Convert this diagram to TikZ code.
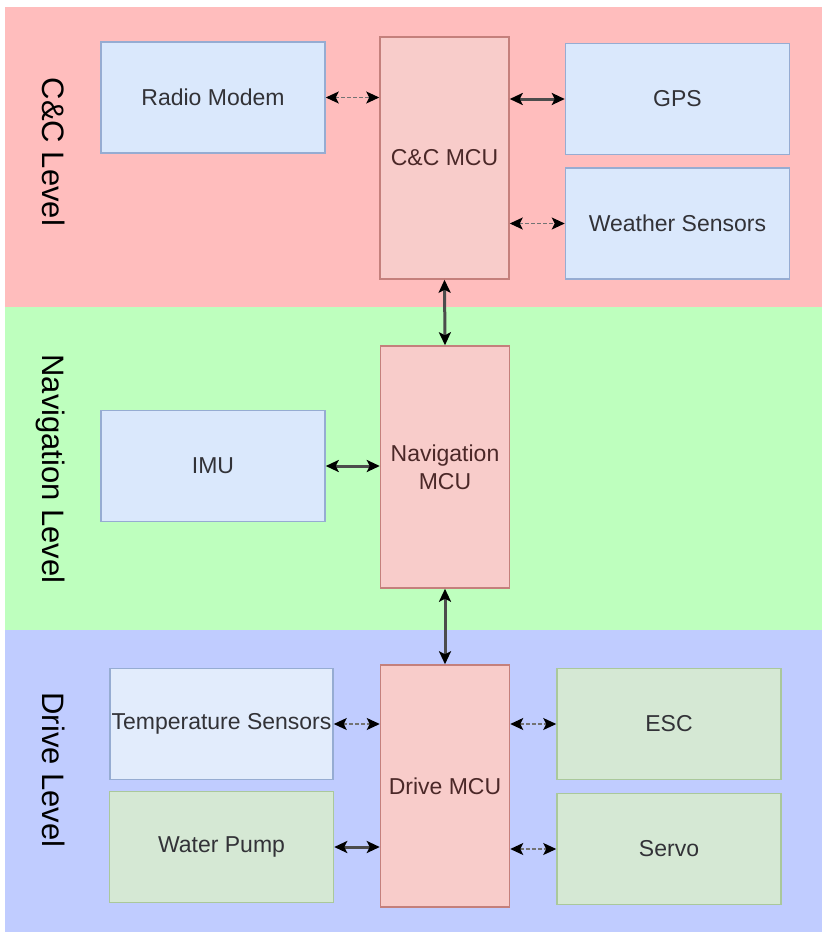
\documentclass[tikz,border=0pt]{standalone}
\usepackage{fontspec}
\setmainfont{Liberation Sans}
\usetikzlibrary{arrows.meta}

\definecolor{bandred}{RGB}{255,189,189}
\definecolor{bandgreen}{RGB}{190,255,190}
\definecolor{bandblue}{RGB}{192,204,255}
\definecolor{devfill}{RGB}{218,232,252}
\definecolor{devdraw}{RGB}{150,172,210}
\definecolor{tempfill}{RGB}{226,236,252}
\definecolor{mcufill}{RGB}{248,204,202}
\definecolor{mcudraw}{RGB}{196,128,124}
\definecolor{actfill}{RGB}{213,232,212}
\definecolor{actdraw}{RGB}{170,200,155}
\definecolor{boxtext}{RGB}{50,50,55}
\definecolor{mcutext}{RGB}{75,40,40}

\begin{document}
\begin{tikzpicture}[x=1pt,y=-1pt,
		every node/.style={inner sep=0pt,font=\fontsize{23}{28}\selectfont},
		dev/.style={draw=devdraw,fill=devfill,line width=1.5pt,text=boxtext,minimum width=224pt,minimum height=111pt},
		act/.style={dev,draw=actdraw,fill=actfill},
		mcu/.style={draw=mcudraw,fill=mcufill,line width=1.5pt,text=mcutext,minimum width=129pt,minimum height=242pt,align=center},
		lvl/.style={rotate=-90,font=\fontsize{31}{37}\selectfont,text=black,text height=23pt,text depth=6pt},
		link/.style={{Stealth[length=13pt,width=12pt,inset=3pt,color=black]}-{Stealth[length=13pt,width=12pt,inset=3pt,color=black]},line width=3pt,draw=black!70},
		weaklink/.style={link,line width=1.3pt,draw=black!55,dash pattern=on 4pt off 2pt}]
	\useasboundingbox (0,0) rectangle (827,937);
	\fill[white] (0,0) rectangle (827,937);
	
	% level bands
	\fill[bandred]   (5,7)   rectangle (822,307);
	\fill[bandgreen] (5,307) rectangle (822,630);
	\fill[bandblue]  (5,630) rectangle (822,932);
	\node[lvl] (cclevel)    at (51,152) {C\&C Level};
	\node[lvl] (navlevel)   at (51,469) {Navigation Level};
	\node[lvl] (drivelevel) at (51,770) {Drive Level};
	
	% C&C level
	\node[mcu] (ccmcu)   at (444.5,158) {C\&C MCU};
	\node[dev] (radio)   at (213,97.5)  {Radio Modem};
	\node[dev] (gps)     at (677.5,99)  {GPS};
	\node[dev] (weather) at (677.5,223.5) {Weather Sensors};
	
	% navigation level
	\node[mcu] (navmcu) at (445,467) {Navigation\\MCU};
	\node[dev] (imu)    at (213,466) {IMU};
	
	% drive level
	\node[mcu] (drivemcu) at (445,786) {Drive MCU};
	\node[dev,fill=tempfill,minimum width=223pt] (temp) at (221.5,724) {Temperature Sensors};
	\node[act] (pump)  at (221.5,847) {Water Pump};
	\node[act] (esc)   at (669,724)   {ESC};
	\node[act] (servo) at (669,849)   {Servo};
	
	\draw[weaklink] (radio.east) -- (radio.east -| ccmcu.west);
	\draw[link]     (gps.west -| ccmcu.east) -- (gps.west);
	\draw[weaklink] (weather.west -| ccmcu.east) -- (weather.west);
	\draw[link]     (ccmcu.south) -- (navmcu.north);
	\draw[link]     (imu.east) -- (imu.east -| navmcu.west);
	\draw[link]     (navmcu.south) -- (drivemcu.north);
	\draw[weaklink] (temp.east) -- (temp.east -| drivemcu.west);
	\draw[link]     (pump.east) -- (pump.east -| drivemcu.west);
	\draw[weaklink] (esc.west -| drivemcu.east) -- (esc.west);
	\draw[weaklink] (servo.west -| drivemcu.east) -- (servo.west);
\end{tikzpicture}
\end{document}
